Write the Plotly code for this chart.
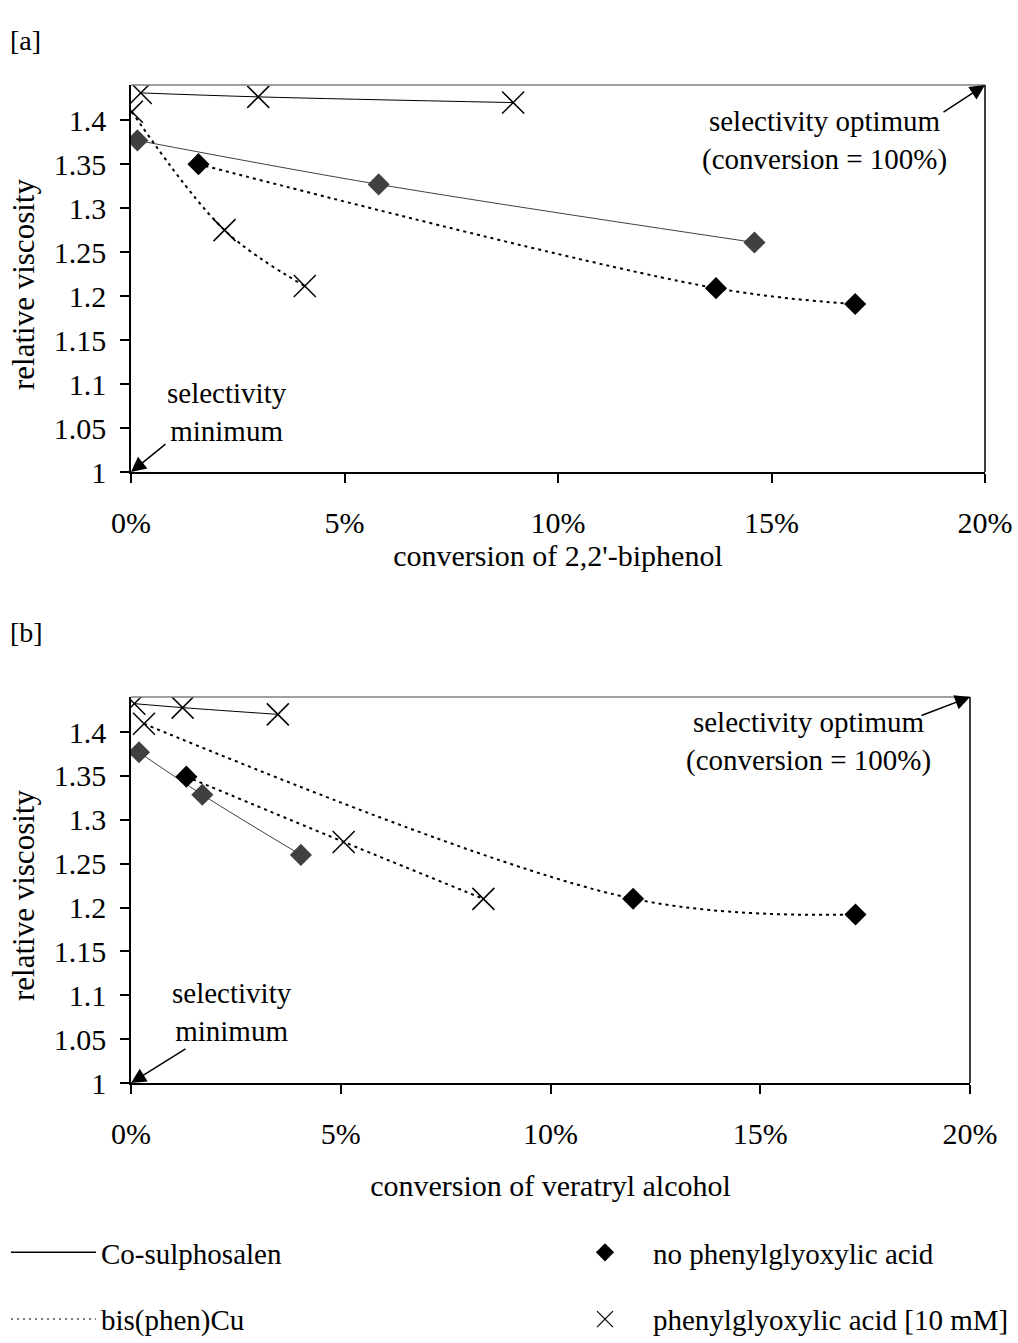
import plotly.graph_objects as go

FONT = "Liberation Serif"

# ---------------- data ----------------
# panel [a]: conversion of 2,2'-biphenol (fraction) vs relative viscosity
a_co_acid_x = [0.0023, 0.0298, 0.0895]
a_co_acid_y = [1.431, 1.4265, 1.420]
a_co_noacid_x = [0.0015, 0.058, 0.146]
a_co_noacid_y = [1.377, 1.327, 1.261]
a_cu_noacid_x = [0.0158, 0.137, 0.1696]
a_cu_noacid_y = [1.350, 1.209, 1.191]
a_cu_acid_x = [0.0002, 0.0219, 0.0407]
a_cu_acid_y = [1.4095, 1.275, 1.2114]

# panel [b]: conversion of veratryl alcohol (fraction) vs relative viscosity
b_co_acid_x = [0.0008, 0.0123, 0.035]
b_co_acid_y = [1.4324, 1.4279, 1.4202]
b_co_noacid_x = [0.0019, 0.017, 0.0405]
b_co_noacid_y = [1.377, 1.3286, 1.260]
b_cu_noacid_x = [0.0132, 0.1197, 0.1727]
b_cu_noacid_y = [1.3492, 1.210, 1.192]
b_cu_acid_x = [0.0031, 0.0507, 0.084]
b_cu_acid_y = [1.4095, 1.2748, 1.2099]

y_tickvals = [1, 1.05, 1.1, 1.15, 1.2, 1.25, 1.3, 1.35, 1.4]
y_ticktext = ["1", "1.05", "1.1", "1.15", "1.2", "1.25", "1.3", "1.35", "1.4"]
x_tickvals = [0, 0.05, 0.10, 0.15, 0.20]
y_range = [1, 1.44]
x_range = [0, 0.20]

# ---------------- styles ----------------
GRAY = "#404040"
DOT = "3px,4px"
X_MARK = dict(symbol="x-thin-open", size=22, color="black", line=dict(color="black", width=1.5))

fig = go.Figure()


def line_trace(xs, ys, xa, ya, color, width, dash=None):
    fig.add_trace(go.Scatter(x=xs, y=ys, xaxis=xa, yaxis=ya, mode="lines",
                             line=dict(color=color, width=width, dash=dash, shape="spline", smoothing=1),
                             showlegend=False, hoverinfo="skip"))


def marker_trace(xs, ys, xa, ya, marker):
    fig.add_trace(go.Scatter(x=xs, y=ys, xaxis=xa, yaxis=ya, mode="markers", marker=marker,
                             showlegend=False))


# ---- panel a: lines
line_trace(a_co_acid_x, a_co_acid_y, "x", "y", "black", 1)
line_trace(a_co_noacid_x, a_co_noacid_y, "x", "y", GRAY, 1)
line_trace(a_cu_noacid_x, a_cu_noacid_y, "x", "y", "black", 2, DOT)
line_trace(a_cu_acid_x, a_cu_acid_y, "x", "y", "black", 2, DOT)
# ---- panel b: lines (the dotted paths in the original cross over between the two Cu series)
line_trace(b_co_acid_x, b_co_acid_y, "x2", "y2", "black", 1)
line_trace(b_co_noacid_x, b_co_noacid_y, "x2", "y2", GRAY, 1)
line_trace(b_cu_acid_x[:1] + b_cu_noacid_x[1:], b_cu_acid_y[:1] + b_cu_noacid_y[1:], "x2", "y2", "black", 2, DOT)
line_trace(b_cu_noacid_x[:1] + b_cu_acid_x[1:], b_cu_noacid_y[:1] + b_cu_acid_y[1:], "x2", "y2", "black", 2, DOT)

# ---- markers
for xa, ya, coa, con, cun, cua in (
        ("x", "y", (a_co_acid_x, a_co_acid_y), (a_co_noacid_x, a_co_noacid_y),
         (a_cu_noacid_x, a_cu_noacid_y), (a_cu_acid_x, a_cu_acid_y)),
        ("x2", "y2", (b_co_acid_x, b_co_acid_y), (b_co_noacid_x, b_co_noacid_y),
         (b_cu_noacid_x, b_cu_noacid_y), (b_cu_acid_x, b_cu_acid_y))):
    marker_trace(coa[0], coa[1], xa, ya, X_MARK)
    marker_trace(con[0], con[1], xa, ya, dict(symbol="diamond", size=17, color=GRAY))
    marker_trace(cun[0], cun[1], xa, ya, dict(symbol="diamond", size=17, color="black"))
    marker_trace(cua[0], cua[1], xa, ya, X_MARK)

# legend entries
fig.add_trace(go.Scatter(x=[None], y=[None], mode="lines", name="Co-sulphosalen",
                         line=dict(color="black", width=1.5), legend="legend", legendgroup="g1"))
fig.add_trace(go.Scatter(x=[None], y=[None], mode="lines", name="bis(phen)Cu",
                         line=dict(color="#555555", width=1.5, dash="2px,4px"), legend="legend", legendgroup="g2"))
fig.add_trace(go.Scatter(x=[None], y=[None], mode="markers", name="no phenylglyoxylic acid",
                         marker=dict(symbol="diamond", size=14, color="black"), legend="legend2", legendgroup="g3"))
fig.add_trace(go.Scatter(x=[None], y=[None], mode="markers", name="phenylglyoxylic acid [10 mM]",
                         marker=dict(symbol="x-thin-open", size=16, color="black",
                                     line=dict(color="black", width=1.2)),
                         legend="legend2", legendgroup="g4"))

W, H = 1018, 1343


def px_x(p):
    return p / W


def px_y(p):
    return (H - p) / H


tickfont = dict(family=FONT, size=30, color="black")
titlefont = dict(family=FONT, size=30, color="black")
common_x = dict(range=x_range, tickvals=x_tickvals, tickformat=".0%", showline=True, linecolor="black",
                linewidth=1.5, ticks="outside", ticklen=9, tickcolor="black", tickwidth=1.5,
                showgrid=False, zeroline=False, tickfont=tickfont, ticklabelstandoff=14, fixedrange=True,
                automargin=False)
common_y = dict(range=y_range, tickvals=y_tickvals, ticktext=y_ticktext, showline=True, linecolor="black",
                linewidth=1.5, ticks="outside", ticklen=9, tickcolor="black", tickwidth=1.5,
                showgrid=False, zeroline=False, tickfont=tickfont, ticklabelstandoff=8, fixedrange=True,
                automargin=False)

fig.update_layout(
    width=W, height=H,
    paper_bgcolor="white", plot_bgcolor="white",
    margin=dict(l=0, r=0, t=0, b=0, autoexpand=False),
    font=dict(family=FONT, size=28, color="black"),
    xaxis=dict(common_x, domain=[px_x(131), px_x(985)], anchor="y",
               title=dict(text="conversion of 2,2'-biphenol", font=titlefont, standoff=4)),
    yaxis=dict(common_y, domain=[px_y(472), px_y(85)], anchor="x"),
    xaxis2=dict(common_x, domain=[px_x(131), px_x(970)], anchor="y2",
                title=dict(text="conversion of veratryl alcohol", font=titlefont, standoff=26)),
    yaxis2=dict(common_y, domain=[px_y(1083), px_y(697)], anchor="x2"),
    legend=dict(x=px_x(6), y=px_y(1227), xanchor="left", yanchor="top", font=dict(family=FONT, size=29),
                bgcolor="rgba(0,0,0,0)", tracegroupgap=26, itemwidth=85),
    legend2=dict(x=px_x(557), y=px_y(1227), xanchor="left", yanchor="top", font=dict(family=FONT, size=29),
                 bgcolor="rgba(0,0,0,0)", tracegroupgap=26, itemwidth=86),
)

# plot-area frame (top gray, right black)
for xr, yr in (("x domain", "y domain"), ("x2 domain", "y2 domain")):
    fig.add_shape(type="line", xref=xr, yref=yr, x0=0, x1=1, y0=1, y1=1, line=dict(color="#808080", width=1.5))
    fig.add_shape(type="line", xref=xr, yref=yr, x0=1, x1=1, y0=0, y1=1, line=dict(color="black", width=1.5))

ann_font = dict(family=FONT, size=29, color="black")
center = dict(xref="paper", yref="paper", xanchor="center", yanchor="middle", showarrow=False)

# y-axis titles
fig.add_annotation(text="relative viscosity", x=px_x(24), y=px_y(285), textangle=-90,
                   font=dict(family=FONT, size=31, color="black"), **center)
fig.add_annotation(text="relative viscosity", x=px_x(24), y=px_y(896), textangle=-90,
                   font=dict(family=FONT, size=31, color="black"), **center)

# panel labels
fig.add_annotation(text="[a]", xref="paper", yref="paper", x=px_x(8), y=px_y(40), xanchor="left",
                   yanchor="middle", showarrow=False, font=dict(family=FONT, size=28, color="black"))
fig.add_annotation(text="[b]", xref="paper", yref="paper", x=px_x(8), y=px_y(632), xanchor="left",
                   yanchor="middle", showarrow=False, font=dict(family=FONT, size=28, color="black"))

# arrows
arrow = dict(showarrow=True, arrowhead=2, arrowsize=2, arrowwidth=1.5, arrowcolor="black", text="")
fig.add_annotation(x=0.20, y=y_range[1], xref="x", yref="y", ax=-43, ay=28, **arrow)
fig.add_annotation(x=0, y=1, xref="x", yref="y", ax=36, ay=-29, **arrow)
fig.add_annotation(x=0.20, y=y_range[1], xref="x2", yref="y2", ax=-50, ay=19, **arrow)
fig.add_annotation(x=0, y=1, xref="x2", yref="y2", ax=56, ay=-35, **arrow)

# annotation texts
fig.add_annotation(text="selectivity optimum<br>(conversion = 100%)", x=px_x(824), y=px_y(141),
                   font=ann_font, align="center", **center)
fig.add_annotation(text="selectivity<br>minimum", x=px_x(227), y=px_y(412),
                   font=ann_font, align="center", **center)
fig.add_annotation(text="selectivity optimum<br>(conversion = 100%)", x=px_x(808), y=px_y(741),
                   font=ann_font, align="center", **center)
fig.add_annotation(text="selectivity<br>minimum", x=px_x(232), y=px_y(1012),
                   font=ann_font, align="center", **center)

fig.write_html("out.html")
